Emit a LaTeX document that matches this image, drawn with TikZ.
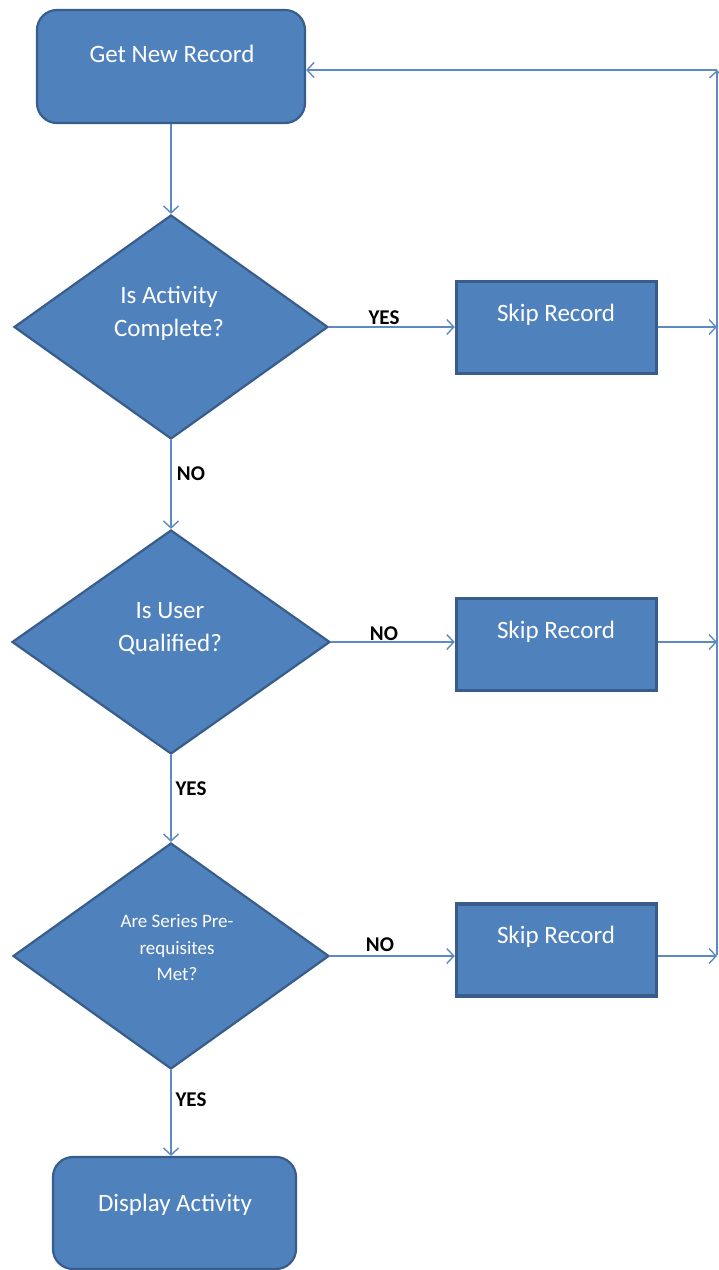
\documentclass[tikz,border=0pt]{standalone}
\usepackage{fontspec}
\setmainfont{Carlito}
\usetikzlibrary{shapes.geometric,arrows.meta}
\definecolor{boxfill}{RGB}{79,129,189}
\definecolor{boxline}{RGB}{56,93,138}
\definecolor{wire}{RGB}{94,138,196}
\begin{document}
\begin{tikzpicture}[x=1pt,y=-1pt,
  term/.style={draw=boxline, fill=boxfill, line width=2.2pt, rounded corners=20pt, inner sep=0pt},
  skipbox/.style={draw=boxline, fill=boxfill, line width=3.5pt, inner sep=0pt, minimum width=200pt, minimum height=92pt},
  decision/.style={diamond, draw=boxline, fill=boxfill, line width=2.2pt, inner sep=0pt},
  txt/.style={text=white, font=\fontsize{25}{33}\selectfont, align=center, inner sep=0pt},
  smalltxt/.style={text=white, font=\fontsize{19}{26.5}\selectfont, align=center, inner sep=0pt},
  lbl/.style={font=\bfseries\fontsize{21}{24}\selectfont, text=black, inner sep=0pt},
  flow/.style={draw=wire, line width=1.4pt, -{Straight Barb[length=7pt,width=15pt,line width=1.4pt]}}]
\useasboundingbox (0,0) rectangle (719,1270);

% process boxes and decisions
\node[term, minimum width=268pt, minimum height=113pt] (gnr) at (171,66.5) {};
\node[decision, minimum width=314pt, minimum height=224pt] (d1) at (171,327) {};
\node[decision, minimum width=318pt, minimum height=224pt] (d2) at (171,642) {};
\node[decision, minimum width=316pt, minimum height=226pt] (d3) at (171,956) {};
\node[skipbox] (s1) at (556.5,327.5) {};
\node[skipbox] (s2) at (556.5,644.5) {};
\node[skipbox] (s3) at (556.5,950) {};
\node[term, minimum width=243pt, minimum height=112pt] (disp) at (174.5,1213) {};

% texts inside the shapes
\node[txt] (gnrt) at (172,54) {Get New Record};
\node[txt] (d1t) at (169,313) {Is Activity\\Complete?};
\node[txt] (d2t) at (170,629) {Is User\\Qualified?};
\node[smalltxt] (d3t) at (177,948) {Are Series Pre-\\requisites\\Met?};
\node[txt] (s1t) at (556,315) {Skip Record};
\node[txt] (s2t) at (556,632) {Skip Record};
\node[txt] (s3t) at (556,937) {Skip Record};
\node[txt] (dispt) at (175,1205) {Display Activity};

% return bus on the right
\coordinate (bustop) at (717,70);
\coordinate (busbot) at (717,955);

% connectors
\draw[flow] (gnr) -- (d1);
\draw[flow] (d1) -- (d2);
\draw[flow] (d2) -- (d3);
\draw[flow] (d3.south) -- (disp.north -| d3.south);
\draw[flow] (d1.east) -- (d1.east -| s1.west);
\draw[flow] (d2.east) -- (d2.east -| s2.west);
\draw[flow] (d3.east) -- (d3.east -| s3.west);
\draw[flow] (s1.east |- d1.east) -- (d1.east -| bustop);
\draw[flow] (s2.east |- d2.east) -- (d2.east -| bustop);
\draw[flow] (s3.east |- d3.east) -- (d3.east -| bustop);
\draw[flow] (busbot) -- (bustop);
\draw[flow] (bustop) -- (bustop -| gnr.east);

% branch labels
\node[lbl] (l1) at (384,318) {YES};
\node[lbl] (l2) at (191,474) {NO};
\node[lbl] (l3) at (384,634) {NO};
\node[lbl] (l4) at (191,789) {YES};
\node[lbl] (l5) at (380,945) {NO};
\node[lbl] (l6) at (191,1100) {YES};
\end{tikzpicture}
\end{document}
